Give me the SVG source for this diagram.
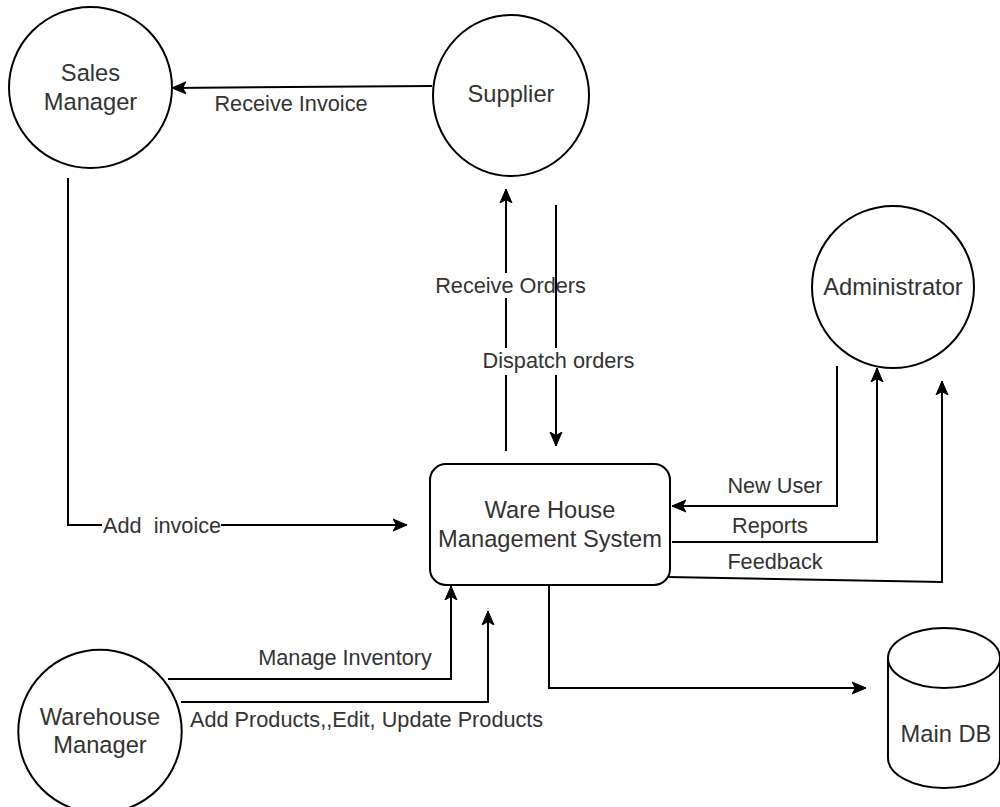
<svg xmlns="http://www.w3.org/2000/svg" width="1000" height="807" viewBox="0 0 1000 807">
<style>
.shape{fill:#fff;stroke:#000;stroke-width:2}
.edge{fill:none;stroke:#000;stroke-width:2}
.nt{font-family:"Liberation Sans",Arial,sans-serif;font-size:23.7px;fill:#333;text-anchor:middle}
.lt{font-family:"Liberation Sans",Arial,sans-serif;font-size:21.7px;fill:#333;text-anchor:middle}
.bg{fill:#fff;stroke:none}
</style>
<defs>
<marker id="arr" markerUnits="userSpaceOnUse" markerWidth="16" markerHeight="14" refX="14" refY="7" orient="auto" viewBox="0 0 16 14">
<path d="M0,1 L14,7 L0,13 L3.5,7 Z" fill="#000" stroke="#000" stroke-width="1"/>
</marker>
</defs>
<rect width="1000" height="807" fill="#fff"/>

<g id="edges">
<g id="e-receive-invoice">
<path class="edge" d="M432,86 L172,88" marker-end="url(#arr)"/>
<text class="lt" x="291" y="111">Receive Invoice</text>
</g>
<g id="e-add-invoice">
<path class="edge" d="M68,178 L68,525 L407,525" marker-end="url(#arr)"/>
<rect class="bg" x="102" y="514" width="119" height="22"/>
<text class="lt" x="103" y="533" text-anchor="start" style="text-anchor:start;white-space:pre" xml:space="preserve">Add  invoice</text>
</g>
<g id="e-receive-orders">
<path class="edge" d="M506,451 L506,189" marker-end="url(#arr)"/>
<rect class="bg" x="434" y="273" width="153" height="25"/>
<text class="lt" x="510.5" y="293">Receive Orders</text>
</g>
<g id="e-dispatch-orders">
<path class="edge" d="M556,205 L556,446" marker-end="url(#arr)"/>
<rect class="bg" x="483" y="348" width="151" height="27"/>
<text class="lt" x="558.5" y="368">Dispatch orders</text>
</g>
<g id="e-new-user">
<path class="edge" d="M837,366 L837,506 L672,506" marker-end="url(#arr)"/>
<text class="lt" x="775" y="493">New User</text>
</g>
<g id="e-reports">
<path class="edge" d="M672,542 L877,542 L877,368" marker-end="url(#arr)"/>
<text class="lt" x="770" y="533">Reports</text>
</g>
<g id="e-feedback">
<path class="edge" d="M668,577 L942,582 L942,381" marker-end="url(#arr)"/>
<text class="lt" x="775" y="569">Feedback</text>
</g>
<g id="e-manage-inventory">
<path class="edge" d="M168,679 L451,679 L451,586" marker-end="url(#arr)"/>
<text class="lt" x="345" y="665">Manage Inventory</text>
</g>
<g id="e-add-products">
<path class="edge" d="M181,702 L488,702 L488,611" marker-end="url(#arr)"/>
<text class="lt" x="190" y="727" style="text-anchor:start">Add Products,,Edit, Update Products</text>
</g>
<g id="e-db">
<path class="edge" d="M549,585 L549,688 L866,688" marker-end="url(#arr)"/>
</g>
</g>

<g id="sales-manager">
<ellipse class="shape" cx="90.5" cy="87.5" rx="81.5" ry="80.5"/>
<text class="nt" x="90.5" y="81">Sales</text>
<text class="nt" x="90.5" y="110">Manager</text>
</g>
<g id="supplier">
<ellipse class="shape" cx="511" cy="95.5" rx="78" ry="80.5"/>
<text class="nt" x="511" y="102">Supplier</text>
</g>
<g id="administrator">
<ellipse class="shape" cx="893" cy="287" rx="81" ry="81"/>
<text class="nt" x="893" y="295">Administrator</text>
</g>
<g id="wms">
<rect class="shape" x="430" y="464" width="240" height="121" rx="16" ry="16"/>
<text class="nt" x="550" y="518">Ware House</text>
<text class="nt" x="550" y="547">Management System</text>
</g>
<g id="warehouse-manager">
<ellipse class="shape" cx="100" cy="731.5" rx="81.7" ry="81.7"/>
<text class="nt" x="100" y="725">Warehouse</text>
<text class="nt" x="100" y="753">Manager</text>
</g>
<g id="main-db">
<path class="shape" d="M888,658 L888,758 A56,30 0 0 0 1000,758 L1000,658 A56,30 0 0 0 888,658 Z"/>
<path class="edge" d="M888,658 A56,30 0 0 0 1000,658"/>
<text class="nt" x="946" y="742">Main DB</text>
</g>
</svg>
